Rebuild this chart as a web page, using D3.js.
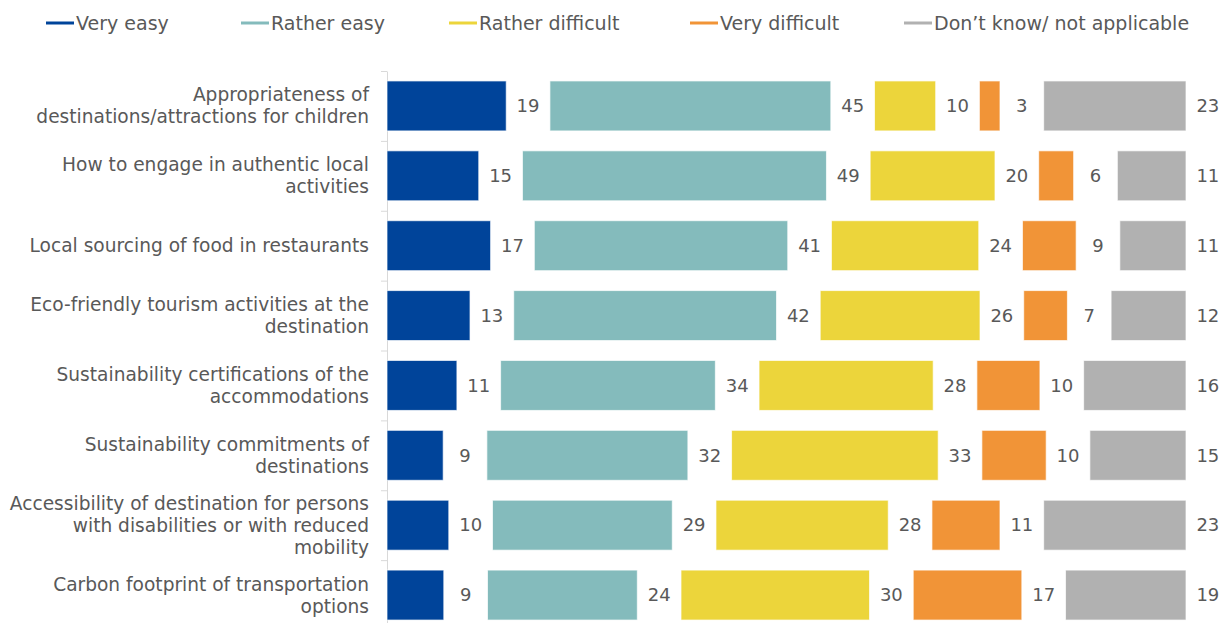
<!DOCTYPE html>
<html>
<head>
<meta charset="utf-8">
<script src="https://cdn.jsdelivr.net/npm/d3@7"></script>
<style>
  body { margin: 0; background: #fff; }
  svg { display: block; font-family: "DejaVu Sans", Verdana, sans-serif; }
  text { fill: #595959; }
</style>
</head>
<body>
<svg id="chart" width="1228" height="623"></svg>
<script>
var categories = [
  'Appropriateness of|destinations/attractions for children',
  'How to engage in authentic local|activities',
  'Local sourcing of food in restaurants',
  'Eco-friendly tourism activities at the|destination',
  'Sustainability certifications of the|accommodations',
  'Sustainability commitments of|destinations',
  'Accessibility of destination for persons|with disabilities or with reduced|mobility',
  'Carbon footprint of transportation|options'
];
var seriesNames = ['Very easy', 'Rather easy', 'Rather difficult', 'Very difficult', 'Don\u2019t know/ not applicable'];
var colors = ['#00449A', '#84BBBC', '#ECD53B', '#F19437', '#B1B1B1'];

var veryEasy        = [19.1, 14.7, 16.6, 13.3, 11.2,  9.0,  9.9,  9.1];
var ratherEasy      = [45.0, 48.7, 40.6, 42.1, 34.4, 32.2, 28.8, 24.0];
var ratherDifficult = [ 9.8, 20.0, 23.6, 25.6, 27.9, 33.1, 27.6, 30.2];
var veryDifficult   = [ 3.3,  5.6,  8.6,  7.0, 10.1, 10.3, 10.9, 17.4];
var dontKnow        = [22.8, 11.0, 10.6, 12.0, 16.4, 15.4, 22.8, 19.3];

var series = [veryEasy, ratherEasy, ratherDifficult, veryDifficult, dontKnow];

var svg = d3.select('#chart');
var gapUnits = 7;   // room left after every segment for its value label
var plotLeft = 387, plotRight = 1186, plotTop = 71, plotBottom = 630;

var xScale = d3.scaleLinear()
               .domain([0, 100 + 4 * gapUnits])
               .range([plotLeft, plotRight]);
var yScale = d3.scaleBand()
               .domain(categories)
               .range([plotTop, plotBottom])
               .paddingInner(0.285)
               .paddingOuter(0.1425);
var tickScale = d3.scaleLinear()
                  .domain([0, categories.length])
                  .range([plotTop, plotBottom]);

// segments with their start offsets
var segs = [];
categories.forEach(function(c, i) {
  var cum = 0;
  series.forEach(function(s, k) {
    segs.push({ cat: c, k: k, v: s[i], x0: cum + k * gapUnits });
    cum += s[i];
  });
});

// axis: line with ticks between categories
var yAxis = d3.axisLeft(tickScale)
              .tickValues(d3.range(categories.length + 1))
              .tickFormat('')
              .tickSize(6)
              .tickSizeOuter(0);
var axisG = svg.append('g')
  .attr('transform', `translate(${plotLeft}, 0)`)
  .call(yAxis);
axisG.selectAll('path, line').attr('stroke', '#d9d9d9');

svg.selectAll('.bar')
  .data(segs)
  .enter()
  .append('rect')
    .classed('bar', true)
    .attr('x', d => xScale(d.x0))
    .attr('y', d => yScale(d.cat))
    .attr('width', d => xScale(d.x0 + d.v) - xScale(d.x0))
    .attr('height', yScale.bandwidth())
    .attr('fill', d => colors[d.k])
    .attr('stroke', 'rgba(255,255,255,0.7)')
    .attr('stroke-width', 1);

svg.selectAll('.value')
  .data(segs)
  .enter()
  .append('text')
    .classed('value', true)
    .attr('x', d => xScale(d.x0 + d.v + gapUnits / 2))
    .attr('y', d => yScale(d.cat) + yScale.bandwidth() / 2)
    .attr('dy', '0.35em')
    .attr('text-anchor', 'middle')
    .style('font-size', '18px')
    .text(d => Math.round(d.v));

// category labels
var lineH = 22;
svg.selectAll('.cat')
  .data(categories)
  .enter()
  .append('text')
    .classed('cat', true)
    .attr('text-anchor', 'end')
    .style('font-size', '18.6px')
    .each(function(c) {
      var lines = c.split('|');
      var cy = yScale(c) + yScale.bandwidth() / 2;
      var y0 = cy - (lines.length - 1) * lineH / 2;
      d3.select(this).selectAll('tspan')
        .data(lines)
        .enter()
        .append('tspan')
          .attr('x', 369)
          .attr('y', (l, j) => y0 + j * lineH)
          .attr('dy', '0.35em')
          .text(l => l);
    });

// legend
var legendX = [46, 241, 449, 690, 904];
var legend = svg.selectAll('.legend')
  .data(seriesNames)
  .enter()
  .append('g')
    .classed('legend', true)
    .attr('transform', (d, i) => `translate(${legendX[i]}, 23)`);
legend.append('line')
  .attr('x1', 0).attr('x2', 28)
  .attr('stroke', (d, i) => colors[i])
  .attr('stroke-width', 3);
legend.append('text')
  .attr('x', 30)
  .attr('dy', '0.35em')
  .style('font-size', '19px')
  .text(d => d);
</script>
</body>
</html>
